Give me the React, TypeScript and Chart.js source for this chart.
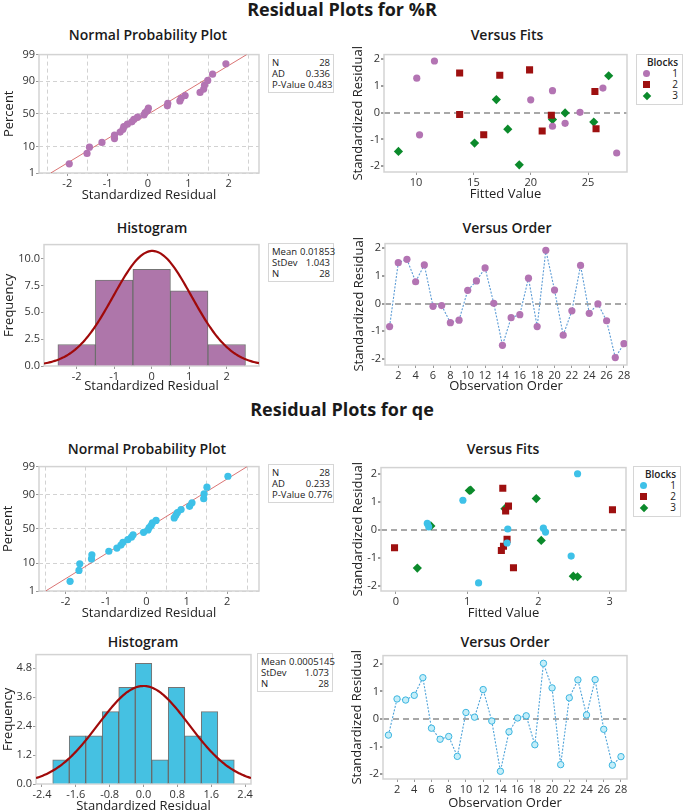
import React, { useEffect, useRef } from 'react';
import { Chart, registerables } from 'chart.js';
Chart.register(...registerables);

// ---------------- DATA ----------------
const OBS = [1, 2, 3, 4, 5, 6, 7, 8, 9, 10, 11, 12, 13, 14, 15, 16, 17, 18, 19, 20, 21, 22, 23, 24, 25, 26, 27, 28];
const BLOCK = [2, 2, 2, 2, 2, 2, 2, 2, 2, 1, 1, 1, 1, 1, 1, 1, 1, 1, 1, 3, 3, 3, 3, 3, 3, 3, 3, 3];
const BLOCK_IDS = [1, 2, 3];

// %R
const RESID_R = [-0.83, 1.48, 1.6, 0.79, 1.4, -0.1, -0.07, -0.69, -0.6, 0.48, 0.82, 1.29, 0.01, -1.51, -0.51, -0.4, 0.92, -0.83, 1.93, 0.49, -1.14, -0.26, 1.38, -0.35, -0.01, -0.62, -1.95, -1.45];
const FITS_R = [15.9, 13.8, 19.9, 25.6, 17.3, 21.8, 13.8, 21.0, 25.7, 20.0, 21.9, 10.06, 24.3, 27.5, 21.9, 23.0, 26.3, 10.3, 11.6, 17.0, 15.1, 21.9, 26.8, 25.5, 23.0, 18.0, 19.0, 8.46];
const HIST_R_MID = [-2, -1, 0, 1, 2];
const HIST_R_COUNT = [2, 8, 9, 7, 2];
const STATS_R = { mean: 0.01853, stdev: 1.043, n: 28, ad: 0.336, p: 0.483 };

// qe
const RESID_Q = [-0.58, 0.73, 0.69, 0.86, 1.5, -0.33, -0.73, -0.63, -1.35, 0.24, 0.07, 1.07, -0.07, -1.89, -0.46, 0.04, 0.12, -0.93, 2.02, 1.13, -1.65, 0.77, 1.42, 0.15, 1.43, -0.37, -1.67, -1.36];
const FITS_Q = [1.51, 3.04, 1.54, 1.58, 1.5, 1.56, 1.48, -0.02, 1.65, 0.44, 2.07, 0.94, 2.1, 1.16, 1.56, 1.57, 0.46, 2.46, 2.55, 1.97, 2.49, 1.53, 1.03, 0.49, 1.05, 2.04, 2.55, 0.3];
const HIST_Q_MID = [-1.95, -1.56, -1.17, -0.78, -0.39, 0, 0.39, 0.78, 1.17, 1.56, 1.95];
const HIST_Q_COUNT = [1, 2, 2, 3, 4, 5, 1, 4, 2, 3, 1];
const STATS_Q = { mean: 0.0005145, stdev: 1.073, n: 28, ad: 0.233, p: 0.776 };

// tick labels
const NPP_PCT_TICKS = [1, 10, 50, 90, 99];
const NPP_X_GRID = [-2.5, -2, -1.5, -1, -0.5, 0, 0.5, 1, 1.5, 2, 2.5];
const RESID_TICKS = [-2, -1, 0, 1, 2];
const FITS_R_TICKS = [10, 15, 20, 25];
const FITS_Q_TICKS = [0, 1, 2, 3];
const ORDER_TICKS = [2, 4, 6, 8, 10, 12, 14, 16, 18, 20, 22, 24, 26, 28];
const HIST_R_X_TICKS = [-2, -1, 0, 1, 2];
const HIST_R_Y_TICKS = [0, 2.5, 5, 7.5, 10];
const HIST_Q_X_TICKS = [-2.4, -1.6, -0.8, 0, 0.8, 1.6, 2.4];
const HIST_Q_Y_TICKS = [0, 1.2, 2.4, 3.6, 4.8];

// ---------------- STYLE ----------------
const FONT = "'Open Sans', 'Noto Sans', 'DejaVu Sans', sans-serif";
const BLOCK_STYLE_R: any = {
  1: { color: '#B374B3', style: 'circle', radius: 3.6 },
  2: { color: '#9E1010', style: 'rect', radius: 5 },
  3: { color: '#0B8A2B', style: 'rectRot', radius: 4.6 },
};
const BLOCK_STYLE_Q: any = {
  1: { color: '#3EC1E8', style: 'circle', radius: 3.6 },
  2: { color: '#9E1010', style: 'rect', radius: 5 },
  3: { color: '#0B8A2B', style: 'rectRot', radius: 4.6 },
};

Chart.defaults.font.family = FONT;

function probit(p: number): number {
  const a = [-39.69683028665376, 220.9460984245205, -275.9285104469687, 138.357751867269, -30.66479806614716, 2.506628277459239];
  const b = [-54.47609879822406, 161.5858368580409, -155.6989798598866, 66.80131188771972, -13.28068155288572];
  const c = [-0.007784894002430293, -0.3223964580411365, -2.400758277161838, -2.549732539343734, 4.374664141464968, 2.938163982698783];
  const d = [0.007784695709041462, 0.3224671290700398, 2.445134137142996, 3.754408661907416];
  const pl = 0.02425;
  let q: number, r: number;
  if (p < pl) {
    q = Math.sqrt(-2 * Math.log(p));
    return (((((c[0] * q + c[1]) * q + c[2]) * q + c[3]) * q + c[4]) * q + c[5]) / ((((d[0] * q + d[1]) * q + d[2]) * q + d[3]) * q + 1);
  }
  if (p <= 1 - pl) {
    q = p - 0.5; r = q * q;
    return ((((((a[0] * r + a[1]) * r + a[2]) * r + a[3]) * r + a[4]) * r + a[5]) * q) / (((((b[0] * r + b[1]) * r + b[2]) * r + b[3]) * r + b[4]) * r + 1);
  }
  q = Math.sqrt(-2 * Math.log(1 - p));
  return -(((((c[0] * q + c[1]) * q + c[2]) * q + c[3]) * q + c[4]) * q + c[5]) / ((((d[0] * q + d[1]) * q + d[2]) * q + d[3]) * q + 1);
}

const PT = 6;
const PR = 6;

const framePlugin = {
  id: 'frame',
  beforeDatasetsDraw(chart: any) {
    const { ctx, chartArea } = chart;
    ctx.save();
    ctx.strokeStyle = '#D3D3D3';
    ctx.lineWidth = 1.5;
    ctx.strokeRect(chartArea.left, chartArea.top, chartArea.right - chartArea.left, chartArea.bottom - chartArea.top);
    ctx.restore();
  },
};

function axis(min: number, max: number, ticks: number[], title: string, fmt?: (v: number, i: number) => string) {
  return {
    type: 'linear',
    min,
    max,
    offset: false,
    afterBuildTicks: (s: any) => { s.ticks = ticks.map((v) => ({ value: v })); },
    ticks: {
      font: { size: 11 },
      color: '#333',
      padding: 1,
      autoSkip: false,
      maxRotation: 0,
      callback: (v: number, i: number) => (fmt ? fmt(v, i) : String(v)),
    },
    grid: { display: true, drawOnChartArea: false, drawTicks: true, tickLength: 3, tickColor: '#9A9A9A', color: 'transparent', offset: false },
    border: { display: false },
    title: { display: true, text: title, font: { size: 13 }, color: '#222', padding: 0 },
  };
}

function zeroLineAxis(min: number, max: number, ticks: number[], title: string) {
  const a: any = axis(min, max, ticks, title);
  a.grid = {
    display: true, drawOnChartArea: true, drawTicks: true, tickLength: 3, tickColor: '#9A9A9A',
    color: (c: any) => (c.tick && c.tick.value === 0 ? '#A8A8A8' : 'transparent'),
    lineWidth: 2,
  };
  a.border = { display: false, dash: [6, 4] };
  return a;
}

function ChartBox({ area, yw, xh, build }: { area: number[]; yw: number; xh: number; build: () => any }) {
  const ref = useRef<HTMLCanvasElement>(null);
  const [l, t, r, b] = area;
  const left = l - yw;
  const top = t - PT;
  const width = r - l + yw + PR;
  const height = b - t + PT + xh;
  useEffect(() => {
    const cfg = build();
    cfg.options = cfg.options || {};
    cfg.options.responsive = false;
    cfg.options.animation = false;
    cfg.options.devicePixelRatio = 1;
    cfg.options.layout = { padding: { top: PT, right: PR, left: 0, bottom: 0 }, autoPadding: false };
    cfg.options.plugins = { legend: { display: false }, tooltip: { enabled: false }, title: { display: false } };
    cfg.options.scales.x.afterFit = (s: any) => { s.height = xh; };
    cfg.options.scales.y.afterFit = (s: any) => { s.width = yw; };
    cfg.plugins = [framePlugin];
    const ch = new Chart(ref.current as HTMLCanvasElement, cfg);
    return () => ch.destroy();
  }, []);
  return <canvas ref={ref} width={width} height={height} style={{ position: 'absolute', left, top, width, height }} />;
}

// ---------------- BUILDERS ----------------
function buildNPP(resid: number[], stats: any, color: string, xmin: number, xmax: number) {
  const sorted = [...resid].sort((p, q) => p - q);
  const n = sorted.length;
  const pts = sorted.map((v, i) => ({ x: v, y: probit((i + 1 - 0.3) / (n + 0.4)) }));
  const zLo = probit(NPP_PCT_TICKS[0] / 100);
  const zHi = probit(NPP_PCT_TICKS[NPP_PCT_TICKS.length - 1] / 100);
  const line = [
    { x: stats.mean + stats.stdev * zLo, y: zLo },
    { x: stats.mean + stats.stdev * zHi, y: zHi },
  ];
  const x: any = axis(xmin, xmax, NPP_X_GRID, 'Standardized Residual', (v) => (Number.isInteger(v) ? String(v) : ''));
  x.grid = {
    display: true, drawOnChartArea: true, drawTicks: true, tickLength: 3,
    color: (c: any) => (c.tick && !Number.isInteger(c.tick.value) ? '#D2D2D2' : 'transparent'),
    tickColor: (c: any) => (c.tick && Number.isInteger(c.tick.value) ? '#9A9A9A' : 'transparent'),
    lineWidth: 1,
  };
  x.border = { display: false, dash: [4, 3] };
  const y: any = axis(zLo, zHi, NPP_PCT_TICKS.map((p) => probit(p / 100)), 'Percent', (v, i) => String(NPP_PCT_TICKS[i]));
  y.grid = { display: true, drawOnChartArea: true, drawTicks: true, tickLength: 3, color: '#D2D2D2', tickColor: '#9A9A9A', lineWidth: 1 };
  y.border = { display: false, dash: [4, 3] };
  return () => ({
    type: 'scatter',
    data: {
      datasets: [
        { type: 'line', data: line, borderColor: 'rgba(205,70,70,0.75)', borderWidth: 1, pointRadius: 0, order: 1 },
        { data: pts, backgroundColor: color, borderColor: color, pointRadius: 3.6, borderWidth: 0, order: 0 },
      ],
    },
    options: { scales: { x, y } },
  });
}

function buildFits(resid: number[], fits: number[], styles: any, xmin: number, xmax: number, xticks: number[], ymin: number, ymax: number) {
  const datasets = BLOCK_IDS.map((bid) => {
    const st = styles[bid];
    const data = OBS.map((o, i) => ({ o, i })).filter((d) => BLOCK[d.i] === bid).map((d) => ({ x: fits[d.i], y: resid[d.i] }));
    return { data, pointStyle: st.style, pointRadius: st.radius, backgroundColor: st.color, borderColor: st.color, borderWidth: 0 };
  });
  return () => ({
    type: 'scatter',
    data: { datasets },
    options: {
      scales: {
        x: axis(xmin, xmax, xticks, 'Fitted Value'),
        y: zeroLineAxis(ymin, ymax, RESID_TICKS, 'Standardized Residual'),
      },
    },
  });
}

function buildOrder(resid: number[], pointColor: string, pointFill: string, lineColor: string, radius: number, xmin: number, xmax: number, ymin: number, ymax: number) {
  const data = OBS.map((o, i) => ({ x: o, y: resid[i] }));
  return () => ({
    type: 'line',
    data: {
      datasets: [
        {
          data, borderColor: lineColor, borderWidth: 1.1, borderDash: [2, 1.5], pointRadius: radius,
          pointBackgroundColor: pointFill, pointBorderColor: pointColor, pointBorderWidth: pointFill === pointColor ? 0 : 1, tension: 0,
        },
      ],
    },
    options: {
      scales: {
        x: axis(xmin, xmax, ORDER_TICKS, 'Observation Order'),
        y: zeroLineAxis(ymin, ymax, RESID_TICKS, 'Standardized Residual'),
      },
    },
  });
}

function buildHist(mids: number[], counts: number[], stats: any, barColor: string, xmin: number, xmax: number, xticks: number[], ymax: number, yticks: number[]) {
  const width = mids[1] - mids[0];
  const bars = mids.map((m, i) => ({ x: m, y: counts[i] }));
  const n = counts.reduce((s, c) => s + c, 0);
  const curve: any[] = [];
  const steps = 160;
  for (let k = 0; k <= steps; k++) {
    const xv = xmin + ((xmax - xmin) * k) / steps;
    const zz = (xv - stats.mean) / stats.stdev;
    curve.push({ x: xv, y: (n * width * Math.exp(-0.5 * zz * zz)) / (stats.stdev * Math.sqrt(2 * Math.PI)) });
  }
  return () => ({
    type: 'bar',
    data: {
      datasets: [
        { type: 'line', data: curve, borderColor: '#A00A0A', borderWidth: 2.2, pointRadius: 0, tension: 0, order: 0 },
        { type: 'bar', data: bars, backgroundColor: barColor, borderColor: 'rgba(70,70,70,0.75)', borderWidth: 1, barPercentage: 1, categoryPercentage: 1, grouped: false, order: 1 },
      ],
    },
    options: {
      scales: {
        x: axis(xmin, xmax, xticks, 'Standardized Residual', (v) => (xticks.some((t) => !Number.isInteger(t)) ? v.toFixed(1) : String(v))),
        y: axis(0, ymax, yticks, 'Frequency', (v) => v.toFixed(1)),
      },
    },
  });
}

// ---------------- HTML pieces ----------------
function Title({ text, cx, cy, size, bold }: { text: string; cx: number; cy: number; size: number; bold?: boolean }) {
  const lh = Math.round(size * 1.3);
  return (
    <div style={{ position: 'absolute', left: cx - 200, width: 400, top: cy - lh / 2, height: lh, lineHeight: lh + 'px', textAlign: 'center', fontSize: size, fontWeight: bold ? 700 : 600, color: '#1a1a1a', whiteSpace: 'nowrap' }}>
      {text}
    </div>
  );
}

function StatBox({ l, t, w, rows }: { l: number; t: number; w: number; rows: [string, string][] }) {
  return (
    <div style={{ position: 'absolute', left: l, top: t, width: w, border: '1px solid #D6D6D6', padding: '2px 3px', boxSizing: 'border-box', fontSize: 9.5, lineHeight: '11px', color: '#222', background: '#fff', whiteSpace: 'nowrap' }}>
      {rows.map(([k, v]) => (
        <div key={k} style={{ display: 'flex', justifyContent: 'space-between', gap: 3 }}>
          <span>{k}</span>
          <span>{v}</span>
        </div>
      ))}
    </div>
  );
}

function Marker({ style, color }: { style: string; color: string }) {
  if (style === 'circle') return <span style={{ display: 'inline-block', width: 7, height: 7, borderRadius: '50%', background: color }} />;
  if (style === 'rect') return <span style={{ display: 'inline-block', width: 7, height: 7, background: color }} />;
  return <span style={{ display: 'inline-block', width: 6, height: 6, background: color, transform: 'rotate(45deg)', margin: '0 0.5px' }} />;
}

function LegendBox({ l, t, w, styles }: { l: number; t: number; w: number; styles: any }) {
  return (
    <div style={{ position: 'absolute', left: l, top: t, width: w, border: '1px solid #D6D6D6', padding: '2px 4px 3px 6px', boxSizing: 'border-box', fontSize: 10, lineHeight: '11px', color: '#222', background: '#fff' }}>
      <div style={{ textAlign: 'right', fontWeight: 600 }}>Blocks</div>
      {BLOCK_IDS.map((bid) => (
        <div key={bid} style={{ display: 'flex', justifyContent: 'space-between', alignItems: 'center', height: 11 }}>
          <Marker style={styles[bid].style} color={styles[bid].color} />
          <span>{bid}</span>
        </div>
      ))}
    </div>
  );
}

export default function App() {
  return (
    <div style={{ position: 'absolute', left: 0, top: 0, width: 684, height: 812, background: '#fff', fontFamily: FONT, overflow: 'hidden' }}>
      <Title text="Residual Plots for %R" cx={342} cy={9} size={18} bold />
      <Title text="Normal Probability Plot" cx={148} cy={35} size={14} />
      <Title text="Versus Fits" cx={507} cy={35} size={14} />
      <Title text="Histogram" cx={152} cy={228} size={14} />
      <Title text="Versus Order" cx={507} cy={228} size={14} />

      <ChartBox area={[39, 53, 259, 173]} yw={38} xh={30} build={buildNPP(RESID_R, STATS_R, '#B374B3', -2.7, 2.75)} />
      <StatBox l={268} t={54} w={66} rows={[['N', String(STATS_R.n)], ['AD', STATS_R.ad.toFixed(3)], ['P-Value', STATS_R.p.toFixed(3)]]} />
      <ChartBox area={[384, 53, 627, 172]} yw={34} xh={30} build={buildFits(RESID_R, FITS_R, BLOCK_STYLE_R, 7.2, 28.4, FITS_R_TICKS, -2.22, 2.17)} />
      <LegendBox l={636} t={54} w={47} styles={BLOCK_STYLE_R} />
      <ChartBox area={[44, 243, 259, 366]} yw={43} xh={28} build={buildHist(HIST_R_MID, HIST_R_COUNT, STATS_R, '#AE76AA', -2.87, 2.86, HIST_R_X_TICKS, 11.3, HIST_R_Y_TICKS)} />
      <StatBox l={268} t={243} w={66} rows={[['Mean', String(STATS_R.mean)], ['StDev', STATS_R.stdev.toFixed(3)], ['N', String(STATS_R.n)]]} />
      <ChartBox area={[385, 242, 627, 365]} yw={34} xh={29} build={buildOrder(RESID_R, '#B374B3', '#B374B3', '#5B9BD5', 3.6, 0.47, 28.35, -2.22, 2.17)} />

      <Title text="Residual Plots for qe" cx={342} cy={409} size={18} bold />
      <Title text="Normal Probability Plot" cx={147} cy={449} size={14} />
      <Title text="Versus Fits" cx={503} cy={449} size={14} />
      <Title text="Histogram" cx={143} cy={642} size={14} />
      <Title text="Versus Order" cx={505} cy={642} size={14} />

      <ChartBox area={[39, 465, 259, 591]} yw={39} xh={30} build={buildNPP(RESID_Q, STATS_Q, '#3EC1E8', -2.66, 2.79)} />
      <StatBox l={268} t={464} w={66} rows={[['N', String(STATS_Q.n)], ['AD', STATS_Q.ad.toFixed(3)], ['P-Value', STATS_Q.p.toFixed(3)]]} />
      <ChartBox area={[381, 466, 626, 591]} yw={31} xh={30} build={buildFits(RESID_Q, FITS_Q, BLOCK_STYLE_Q, -0.21, 3.23, FITS_Q_TICKS, -2.18, 2.24)} />
      <LegendBox l={633} t={466} w={48} styles={BLOCK_STYLE_Q} />
      <ChartBox area={[36, 653, 251, 784]} yw={36} xh={30} build={buildHist(HIST_Q_MID, HIST_Q_COUNT, STATS_Q, '#45C1E2', -2.54, 2.54, HIST_Q_X_TICKS, 5.36, HIST_Q_Y_TICKS)} />
      <StatBox l={257} t={653} w={76} rows={[['Mean', String(STATS_Q.mean)], ['StDev', STATS_Q.stdev.toFixed(3)], ['N', String(STATS_Q.n)]]} />
      <ChartBox area={[383, 654, 627, 779]} yw={34} xh={32} build={buildOrder(RESID_Q, '#3BB5E0', '#C4EEF9', '#4FA3D9', 3.2, 0.37, 28.7, -2.17, 2.3)} />
    </div>
  );
}
